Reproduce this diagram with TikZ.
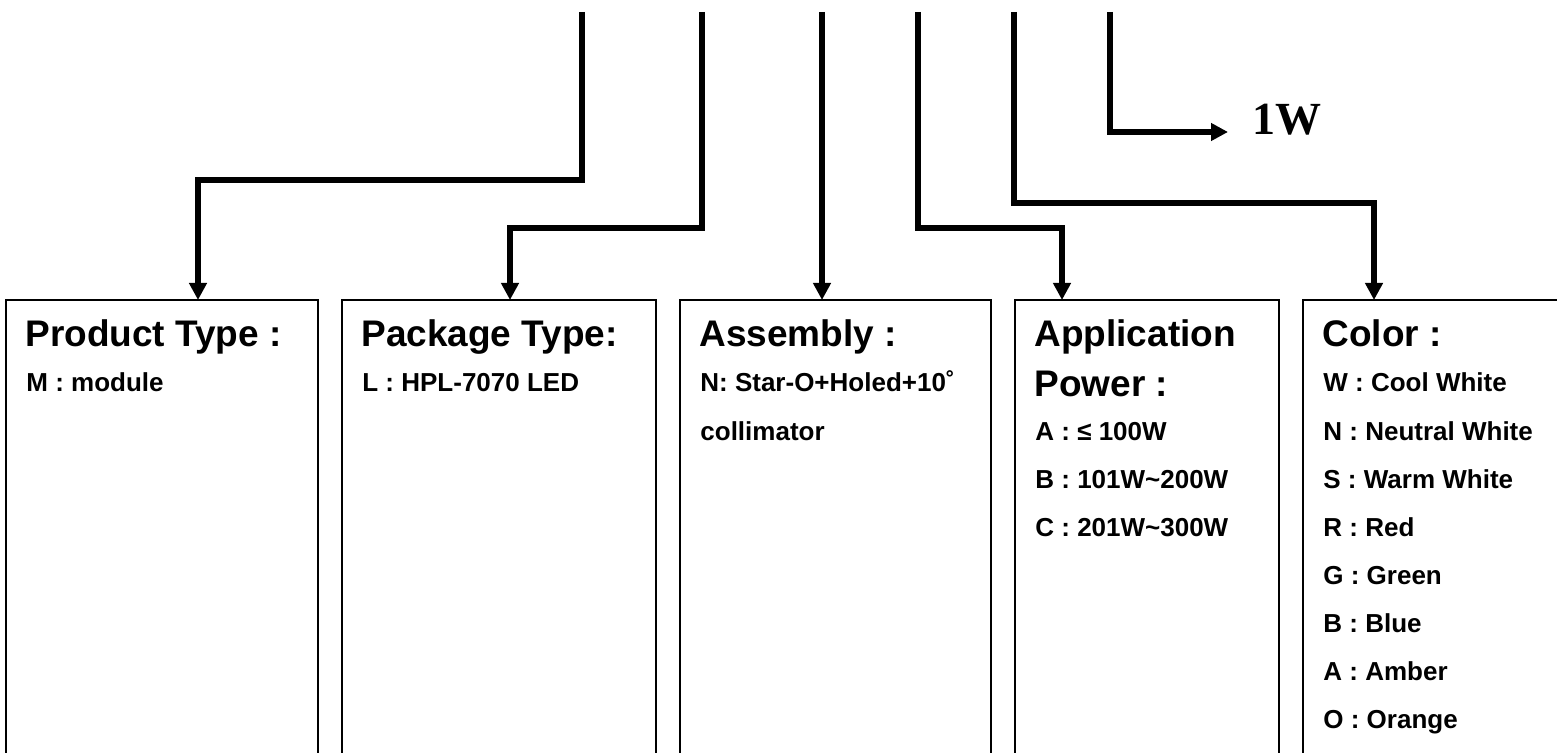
\documentclass[tikz,border=0pt]{standalone}
\usepackage{fontspec}
\setmainfont{Liberation Sans}
\newfontfamily\serifbold{Liberation Serif}
\usetikzlibrary{arrows.meta, positioning}

\tikzset{
  conn/.style={line width=3pt, -{Triangle[width=8.5pt, length=8.5pt]}},
  codebox/.style={draw, line width=1pt, inner sep=0pt, outer sep=0pt, minimum height=250pt},
  headtxt/.style={anchor=base west, inner sep=0pt, font=\fontsize{18.5}{20}\selectfont\bfseries},
  itemtxt/.style={anchor=base west, inner sep=0pt, font=\fontsize{13}{15}\selectfont\bfseries},
}

\begin{document}
\begin{tikzpicture}[x=0.5pt, y=-0.5pt]
    \clip (0,0) rectangle (1557,753);
    % code boxes, left to right
    \node[codebox, minimum width=156pt, anchor=north west] (ptype) at (6,300) {};
    \node[codebox, minimum width=157pt, right=12pt of ptype.north east, anchor=north west] (pkg) {};
    \node[codebox, minimum width=155.5pt, right=12pt of pkg.north east, anchor=north west] (asm) {};
    \node[codebox, minimum width=132pt, right=12pt of asm.north east, anchor=north west] (app) {};
    \node[codebox, minimum width=150pt, right=12pt of app.north east, anchor=north west] (color) {};
    % box texts
    \node[headtxt] (ptypehd) at ([shift={(19,47)}]ptype.north west) {Product Type :};
    \node[itemtxt] (ptypem) at ([shift={(20,92)}]ptype.north west) {M : module};
    \node[headtxt] (pkghd) at ([shift={(19,47)}]pkg.north west) {Package Type:};
    \node[itemtxt] (pkgl) at ([shift={(20,92)}]pkg.north west) {L : HPL-7070 LED};
    \node[headtxt] (asmhd) at ([shift={(19,47)}]asm.north west) {Assembly :};
    \node[itemtxt] (asmn) at ([shift={(20,92)}]asm.north west) {N: Star-O+Holed+10˚};
    \node[itemtxt] (asmn2) at ([shift={(20,140)}]asm.north west) {collimator};
    \node[headtxt] (apphd) at ([shift={(19,47)}]app.north west) {Application};
    \node[headtxt] (apphd2) at ([shift={(19,97)}]app.north west) {Power :};
    \foreach \t [count=\i from 0] in {A : ≤ 100W, B : 101W\textasciitilde200W, C : 201W\textasciitilde300W}
      \node[itemtxt] (app\i) at ([shift={(20,140+48*\i)}]app.north west) {\t};
    \node[headtxt] (colorhd) at ([shift={(19,47)}]color.north west) {Color :};
    \foreach \t [count=\i from 0] in {W : Cool White, N : Neutral White, S : Warm White, R : Red,
        G : Green, B : Blue, A : Amber, O : Orange}
      \node[itemtxt] (color\i) at ([shift={(20,92+48*\i)}]color.north west) {\t};
    % code positions on top
    \coordinate (s1) at (582,12);
    \coordinate (s2) at (702,12);
    \coordinate (s3) at (822,12);
    \coordinate (s4) at (918,12);
    \coordinate (s5) at (1014,12);
    \coordinate (s6) at (1110,12);
    \coordinate (j1) at (198,180);
    \coordinate (j2) at (510,228);
    \coordinate (j4) at (1062,228);
    \coordinate (j5) at (1374,203);
    \coordinate (e6) at (1228,132);
    % connectors
    \draw[conn] (s1) |- (j1) -- (j1 |- ptype.north);
    \draw[conn] (s2) |- (j2) -- (j2 |- pkg.north);
    \draw[conn] (s3) -- (s3 |- asm.north);
    \draw[conn] (s4) |- (j4) -- (j4 |- app.north);
    \draw[conn] (s5) |- (j5) -- (j5 |- color.north);
    \draw[conn] (s6) |- (e6);
    \node[anchor=base west, inner sep=0pt, font=\serifbold\bfseries\fontsize{23}{25}\selectfont] (watt) at (1252,135) {1W};
\end{tikzpicture}
\end{document}
